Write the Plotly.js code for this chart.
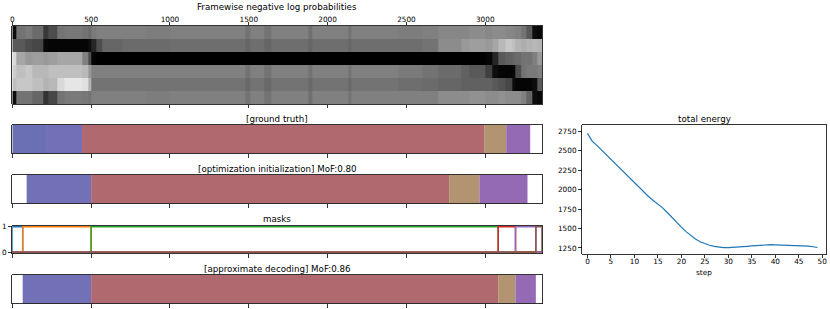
<!DOCTYPE html>
<html>
<head>
<meta charset="utf-8">
<script src="https://cdn.plot.ly/plotly-3.0.1.min.js"></script>
<style>html,body{margin:0;padding:0;background:#fff;}#chart{width:830px;height:309px;}</style>
</head>
<body>
<div id="chart"></div>
<script>
// ---------------- DATA ----------------
var nFrames = 3360;
var frameTicks = [0, 500, 1000, 1500, 2000, 2500, 3000];

// heatmap column edges (frames) and per-class rows (0 = black, 1 = white)
var heatEdges = [0, 27, 80, 125, 198, 230, 283, 330, 442, 480, 500, 530, 570, 700, 850, 1000, 1100, 1250, 1400, 1480, 1510, 1600, 1640, 1750, 1880, 1900, 2000, 2130, 2150, 2300, 2450, 2600, 2700, 2850, 2900, 3000, 3045, 3085, 3127, 3170, 3191, 3230, 3260, 3297, 3329, 3360];
var heatRow0 = [0.05,0.45,0.48,0.42,0.22,0.30,0.45,0.47,0.45,0.42,0.48,0.50,0.50,0.50,0.49,0.50,0.50,0.50,0.50,0.45,0.50,0.45,0.50,0.50,0.44,0.50,0.50,0.45,0.50,0.50,0.49,0.50,0.53,0.53,0.55,0.53,0.55,0.55,0.53,0.52,0.50,0.45,0.35,0.05,0.03];
var heatRow1 = [0.35,0.35,0.30,0.28,0.03,0.02,0.02,0.02,0.02,0.05,0.15,0.30,0.40,0.42,0.42,0.43,0.43,0.43,0.43,0.40,0.43,0.40,0.43,0.43,0.40,0.43,0.43,0.40,0.43,0.43,0.43,0.45,0.55,0.60,0.62,0.60,0.65,0.72,0.78,0.75,0.70,0.68,0.70,0.72,0.70];
var heatRow2 = [0.85,0.65,0.60,0.62,0.60,0.62,0.65,0.65,0.50,0.30,0.02,0.00,0.00,0.00,0.00,0.00,0.00,0.00,0.00,0.00,0.00,0.00,0.00,0.00,0.00,0.00,0.00,0.00,0.00,0.00,0.00,0.00,0.00,0.00,0.00,0.02,0.15,0.35,0.38,0.40,0.42,0.45,0.45,0.50,0.60];
var heatRow3 = [0.80,0.75,0.78,0.72,0.72,0.75,0.75,0.75,0.72,0.60,0.50,0.50,0.50,0.50,0.50,0.50,0.50,0.50,0.50,0.45,0.50,0.45,0.50,0.50,0.45,0.50,0.50,0.45,0.50,0.50,0.48,0.45,0.42,0.38,0.35,0.25,0.05,0.02,0.02,0.03,0.30,0.45,0.48,0.48,0.50];
var heatRow4 = [0.75,0.78,0.78,0.75,0.70,0.72,0.85,0.90,0.88,0.70,0.45,0.45,0.45,0.45,0.45,0.45,0.45,0.45,0.45,0.41,0.45,0.41,0.45,0.45,0.41,0.45,0.45,0.41,0.45,0.45,0.43,0.42,0.40,0.38,0.38,0.38,0.35,0.32,0.28,0.05,0.02,0.02,0.02,0.05,0.35];
var heatRow5 = [0.05,0.45,0.45,0.40,0.20,0.28,0.45,0.48,0.47,0.45,0.50,0.50,0.50,0.50,0.49,0.50,0.50,0.50,0.50,0.45,0.50,0.45,0.50,0.50,0.44,0.50,0.50,0.45,0.50,0.50,0.50,0.50,0.55,0.55,0.57,0.55,0.55,0.57,0.55,0.55,0.55,0.50,0.40,0.05,0.03];

// segmentations: boundaries (frames) and class of each segment ('' = background)
var gtBounds = [0, 214, 442, 2993, 3133, 3285, 3360];
var gtClasses = ['blueA', 'blue', 'red', 'tan', 'purple', ''];
var initBounds = [0, 91, 500, 2771, 2963, 3268, 3360];
var initClasses = ['', 'blue', 'red', 'tan', 'purple', ''];
var decBounds = [0, 66, 500, 3082, 3192, 3321, 3360];
var decClasses = ['', 'blue', 'red', 'tan', 'purple', ''];

// total energy per optimisation step
var energySteps = [0,1,2,3,4,5,6,7,8,9,10,11,12,13,14,15,16,17,18,19,20,21,22,23,24,25,26,27,28,29,30,31,32,33,34,35,36,37,38,39,40,41,42,43,44,45,46,47,48,49];
var energy = [2720,2620,2565,2505,2445,2385,2325,2262,2200,2140,2080,2022,1965,1910,1860,1815,1765,1705,1640,1578,1518,1460,1408,1365,1330,1305,1285,1270,1260,1256,1256,1258,1262,1267,1272,1277,1282,1287,1290,1292,1291,1289,1287,1285,1283,1282,1280,1275,1266,1256];

// ---------------- STYLE ----------------
var classColor = {blueA:'#6b6fb3', blue:'#7270b7', red:'#b0696f', tan:'#b29570', purple:'#956ab5'};
var maskColors = ['#1f77b4','#ff7f0e','#2ca02c','#d62728','#9467bd','#8c564b'];
var FONT = 'DejaVu Sans, sans-serif';
var W = 830, H = 309;
function py(p){ return 1 - p / H; }
function px(p){ return p / W; }

var traces = [];
traces.push({
  type: 'heatmap', x: heatEdges, y: [0,1,2,3,4,5],
  z: [heatRow0, heatRow1, heatRow2, heatRow3, heatRow4, heatRow5],
  colorscale: [[0,'#000000'],[1,'#ffffff']], zmin: 0, zmax: 1,
  showscale: false, xaxis: 'x', yaxis: 'y', hoverinfo: 'skip'
});

function segTrace(bounds, classes, ax){
  var xs = [], bs = [], cs = [], ys = [];
  for (var i = 0; i < classes.length; i++){
    if (!classes[i]) continue;
    bs.push(bounds[i]); xs.push(bounds[i+1] - bounds[i]);
    cs.push(classColor[classes[i]]); ys.push(0);
  }
  return {type:'bar', orientation:'h', x: xs, base: bs, y: ys, width: 1,
          marker:{color: cs, line:{width:0}}, xaxis:'x'+ax, yaxis:'y'+ax, hoverinfo:'skip', showlegend:false};
}
traces.push(segTrace(gtBounds, gtClasses, 2));
traces.push(segTrace(initBounds, initClasses, 3));

for (var k = 0; k < decBounds.length - 1; k++){
  var s = decBounds[k], e = decBounds[k+1];
  traces.push({type:'scatter', mode:'lines', x:[0, s, s, e, e, nFrames], y:[0, 0, 1, 1, 0, 0],
    line:{color: maskColors[k], width: 1.5}, xaxis:'x4', yaxis:'y4', hoverinfo:'skip', showlegend:false});
}
traces.push(segTrace(decBounds, decClasses, 5));

traces.push({type:'scatter', mode:'lines', x: energySteps, y: energy,
  line:{color:'#1f77b4', width:1.2}, xaxis:'x6', yaxis:'y6', showlegend:false, hoverinfo:'skip'});

var xL = px(12.3), xR = px(542);
function frameAxis(yanchor, extra){
  var a = {domain:[xL, xR], range:[0, nFrames], anchor: yanchor, tickvals: frameTicks,
    ticks:'outside', ticklen:3.5, tickwidth:0.8, tickcolor:'#000', showticklabels:false,
    showline:true, linecolor:'#000', linewidth:0.8, mirror:true, showgrid:false, zeroline:false,
    tickfont:{family:FONT, size:7.3, color:'#000'}};
  for (var k in extra) a[k] = extra[k];
  return a;
}
function barY(top, bottom, xanchor, extra){
  var a = {domain:[py(bottom), py(top)], anchor: xanchor, range:[-0.5, 0.5], showticklabels:false,
    ticks:'', showline:true, linecolor:'#000', linewidth:0.8, mirror:true, showgrid:false, zeroline:false,
    tickfont:{family:FONT, size:7.3, color:'#000'}};
  for (var k in extra) a[k] = extra[k];
  return a;
}

var layout = {
  width: W, height: H, margin:{l:0, r:0, t:0, b:0}, paper_bgcolor:'#fff', plot_bgcolor:'#fff',
  showlegend:false, barmode:'overlay', font:{family:FONT, size:7.3, color:'#000'},
  xaxis: frameAxis('y', {side:'top', showticklabels:true, mirror:'ticks', ticklabelstandoff:-3}),
  yaxis: barY(26, 104, 'x', {range:[5.5, -0.5]}),
  xaxis2: frameAxis('y2', {}),
  yaxis2: barY(125, 153.5, 'x2', {}),
  xaxis3: frameAxis('y3', {}),
  yaxis3: barY(175, 203.5, 'x3', {}),
  xaxis4: frameAxis('y4', {}),
  yaxis4: barY(225.5, 253.5, 'x4', {range:[-0.05, 1.05], tickvals:[0,1], showticklabels:true,
           ticks:'outside', ticklen:3.5, tickwidth:0.8, tickcolor:'#000'}),
  xaxis5: frameAxis('y5', {}),
  yaxis5: barY(275, 303.5, 'x5', {}),
  xaxis6: {domain:[px(582.3), px(826)], anchor:'y6', range:[-1.1, 50.8], tickvals:[0,5,10,15,20,25,30,35,40,45,50],
    ticks:'outside', ticklen:3.5, tickwidth:0.8, tickcolor:'#000', showline:true, linecolor:'#000', linewidth:0.8,
    mirror:true, showgrid:false, zeroline:false, ticklabelstandoff:-3, tickfont:{family:FONT, size:7.3, color:'#000'}},
  yaxis6: {domain:[py(254), py(125)], anchor:'x6', range:[1173, 2827], tickvals:[1250,1500,1750,2000,2250,2500,2750],
    ticks:'outside', ticklen:3.5, tickwidth:0.8, tickcolor:'#000', showline:true, linecolor:'#000', linewidth:0.8,
    mirror:true, showgrid:false, zeroline:false, tickfont:{family:FONT, size:7.3, color:'#000'}},
  annotations: [
    {text:'Framewise negative log probabilities', x:px(277), y:py(6.5)},
    {text:'[ground truth]', x:px(277), y:py(118.5)},
    {text:'[optimization initialization] MoF:0.80', x:px(277), y:py(168.5)},
    {text:'masks', x:px(277), y:py(219)},
    {text:'[approximate decoding] MoF:0.86', x:px(277), y:py(268.5)},
    {text:'total energy', x:px(704), y:py(118.5)},
    {text:'step', x:px(704), y:py(272), font:{family:FONT, size:7.3, color:'#000'}}
  ].map(function(a){
    return Object.assign({xref:'paper', yref:'paper', xanchor:'center', yanchor:'middle', showarrow:false,
      font:{family:FONT, size:8.7, color:'#000'}}, a);
  })
};

Plotly.newPlot('chart', traces, layout, {displayModeBar:false, staticPlot:true});
</script>
</body>
</html>
